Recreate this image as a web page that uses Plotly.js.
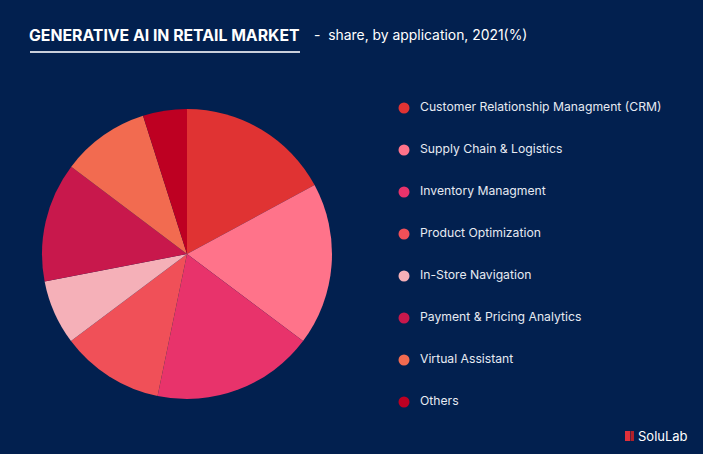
<!DOCTYPE html>
<html><head><meta charset="utf-8">
<script src="https://cdn.plot.ly/plotly-3.0.1.min.js"></script>
<style>html,body{margin:0;padding:0;background:#02204F;}#chart{width:703px;height:454px;}</style>
</head><body><div id="chart"></div>
<script>
const categories = ["Customer Relationship Managment (CRM)","Supply Chain & Logistics","Inventory Managment","Product Optimization","In-Store Navigation","Payment & Pricing Analytics","Virtual Assistant","Others"];
const shares = [17.1, 18.1, 18.0, 11.5, 7.2, 13.3, 9.8, 4.9];
const colors = ["#E03333","#FF738A","#E8336B","#F05058","#F5B0B8","#C8184C","#F26B50","#BE0022"];
const titleText = "GENERATIVE AI IN RETAIL MARKET";
const subtitleText = "-  share, by application, 2021(%)";

const W = 703, H = 454;
const pie = {
  type: 'pie', labels: categories, values: shares, sort: false, direction: 'clockwise', rotation: 0,
  marker: {colors: colors, line: {width: 0}}, textinfo: 'none', hoverinfo: 'label+percent', showlegend: false,
  domain: {x: [42/W, 332/W], y: [(H-399)/H, (H-109)/H]}
};
const legendMarkers = {
  type: 'scatter', mode: 'markers', x: categories.map(() => 0), y: categories.map((c, i) => i),
  marker: {size: 11, color: colors, line: {width: 0}}, cliponaxis: false,
  hoverinfo: 'skip', showlegend: false, xaxis: 'x', yaxis: 'y'
};
const legendText = {
  type: 'scatter', mode: 'text', x: categories.map(() => 16), y: categories.map((c, i) => i),
  text: categories, textposition: 'middle right', cliponaxis: false,
  textfont: {family: 'Inter, sans-serif', size: 12.2, color: '#E6EAF2'},
  hoverinfo: 'skip', showlegend: false, xaxis: 'x', yaxis: 'y'
};
const layout = {
  width: W, height: H, margin: {l: 0, r: 0, t: 0, b: 0},
  paper_bgcolor: '#02204F', plot_bgcolor: 'rgba(0,0,0,0)', showlegend: false,
  xaxis: {domain: [0, 1], range: [-404, W-404], visible: false, fixedrange: true},
  yaxis: {domain: [0, 1], range: [8.238, -2.571], visible: false, fixedrange: true},
  annotations: [
    {text: '<b>' + titleText + '</b>', xref: 'paper', yref: 'paper', x: 27/W, y: 1 - 35/H, xanchor: 'left', yanchor: 'middle', showarrow: false,
     font: {family: 'Inter, sans-serif', size: 15.8, color: '#FFFFFF'}},
    {text: subtitleText, xref: 'paper', yref: 'paper', x: 312/W, y: 1 - 35/H, xanchor: 'left', yanchor: 'middle', showarrow: false,
     font: {family: 'Inter, sans-serif', size: 13.9, color: '#FFFFFF'}},
    {text: 'SoluLab', xref: 'paper', yref: 'paper', x: 636/W, y: 1 - 436/H, xanchor: 'left', yanchor: 'middle', showarrow: false,
     font: {family: 'Inter, sans-serif', size: 13, color: '#FFFFFF'}}
  ],
  shapes: [
    {type: 'line', xref: 'paper', yref: 'paper', x0: 30/W, x1: 300/W, y0: 1 - 52/H, y1: 1 - 52/H, line: {color: '#C9CFDB', width: 2}},
    {type: 'rect', xref: 'paper', yref: 'paper', x0: 625/W, x1: 630/W, y0: 1 - 441/H, y1: 1 - 431/H, fillcolor: '#E0303A', line: {width: 0}},
    {type: 'rect', xref: 'paper', yref: 'paper', x0: 630.5/W, x1: 634/W, y0: 1 - 441/H, y1: 1 - 431/H, fillcolor: '#B0202A', line: {width: 0}}
  ]
};
Plotly.newPlot('chart', [pie, legendMarkers, legendText], layout, {displayModeBar: false, staticPlot: true});
</script></body></html>
